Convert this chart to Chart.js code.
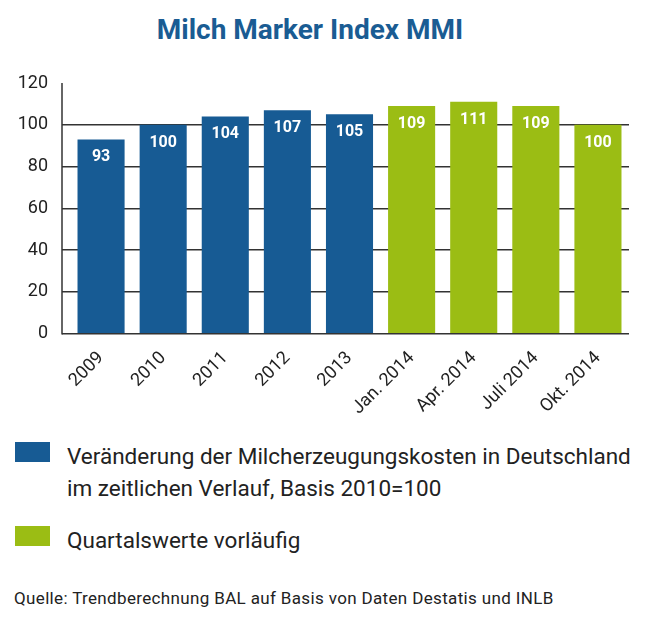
<!DOCTYPE html>
<html>
<head>
    <title>Milch Marker Index MMI</title>
    <style>
        body {
            margin: 0;
            background: #ffffff;
            font-family: Roboto, sans-serif;
            color: #222;
        }
        #page {
            position: relative;
            width: 645px;
            height: 627px;
            overflow: hidden;
        }
        #title {
            position: absolute;
            top: 13px;
            left: 0;
            width: 620px;
            text-align: center;
            font-size: 28px;
            font-weight: bold;
            color: #1a5c93;
        }
        #chartContainer {
            position: absolute;
            left: 0;
            top: 0;
            width: 645px;
            height: 425px;
        }
        .legend {
            position: absolute;
            left: 15px;
            font-size: 22.5px;
            line-height: 32px;
            color: #222;
        }
        .legend .box {
            position: absolute;
            left: 0;
            top: 2px;
            width: 35px;
            height: 20px;
        }
        .legend .text {
            margin-left: 52px;
        }
        #source {
            position: absolute;
            left: 14px;
            top: 588px;
            font-size: 17px;
            line-height: 20px;
            letter-spacing: 0.35px;
            color: #222;
        }
    </style>
    <script src="https://cdn.jsdelivr.net/npm/chart.js"></script>
</head>
<body>
<div id="page">
    <div id="title">Milch Marker Index MMI</div>
    <div id="chartContainer">
        <canvas id="myChart"></canvas>
    </div>
    <div class="legend" style="top: 440px;">
        <div class="box" style="background: #175b94;"></div>
        <div class="text">Veränderung der Milcherzeugungskosten in Deutschland<br>im zeitlichen Verlauf, Basis 2010=100</div>
    </div>
    <div class="legend" style="top: 524px;">
        <div class="box" style="background: #9bbd14;"></div>
        <div class="text">Quartalswerte vorläufig</div>
    </div>
    <div id="source">Quelle: Trendberechnung BAL auf Basis von Daten Destatis und INLB</div>
</div>

<script>
    // data
    let categories = ['2009', '2010', '2011', '2012', '2013', 'Jan. 2014', 'Apr. 2014', 'Juli 2014', 'Okt. 2014'];
    let values = [93, 100, 104, 107, 105, 109, 111, 109, 100];
    let provisional = [false, false, false, false, false, true, true, true, true];
    let yTicks = [0, 20, 40, 60, 80, 100, 120];

    let blue = '#175b94';
    let green = '#9bbd14';
    let lineColor = '#333333';

    // value labels inside the bars
    let barLabels = {
        id: 'barLabels',
        afterDatasetsDraw(chart) {
            let ctx = chart.ctx;
            let meta = chart.getDatasetMeta(0);
            ctx.save();
            ctx.fillStyle = '#ffffff';
            ctx.font = 'bold 16px Roboto';
            ctx.textAlign = 'center';
            ctx.textBaseline = 'middle';
            meta.data.forEach(function(bar, i) {
                ctx.fillText(values[i], bar.x, bar.y + 18);
            });
            ctx.restore();
        }
    };

    // vertical axis line, a bit left of the plot area
    let yAxisLine = {
        id: 'yAxisLine',
        afterDraw(chart) {
            let ctx = chart.ctx;
            let y = chart.scales.y;
            let x = chart.chartArea.left - 8;
            ctx.save();
            ctx.strokeStyle = lineColor;
            ctx.lineWidth = 1.5;
            ctx.beginPath();
            ctx.moveTo(x, y.getPixelForValue(120));
            ctx.lineTo(x, y.getPixelForValue(0) + 0.75);
            ctx.stroke();
            ctx.restore();
        }
    };

    let ctx = document.getElementById('myChart').getContext('2d');
    let myChart = new Chart(ctx, {
        type: 'bar',
        data: {
            labels: categories,
            datasets: [{
                data: values,
                backgroundColor: provisional.map(p => p ? green : blue),
                borderWidth: 0,
                categoryPercentage: 1,
                barPercentage: 0.758
            }]
        },
        options: {
            responsive: true,
            maintainAspectRatio: false,
            animation: false,
            layout: {
                padding: { top: 83, right: 16, left: 0, bottom: 0 }
            },
            plugins: {
                legend: { display: false },
                tooltip: { enabled: false }
            },
            scales: {
                x: {
                    grid: { display: false },
                    border: { display: false },
                    ticks: {
                        maxRotation: 45,
                        minRotation: 45,
                        padding: 6,
                        color: '#222',
                        font: { family: 'Roboto', size: 18 }
                    }
                },
                y: {
                    min: 0,
                    max: 120,
                    afterFit: function(scale) { scale.width = 70; },
                    afterBuildTicks: function(scale) {
                        scale.ticks = yTicks.map(v => ({ value: v }));
                    },
                    border: { display: false },
                    grid: {
                        color: c => c.tick && c.tick.value === 120 ? 'rgba(0,0,0,0)' : lineColor,
                        lineWidth: 1.5,
                        drawTicks: true,
                        tickLength: 8
                    },
                    ticks: {
                        padding: 14,
                        color: '#222',
                        font: { family: 'Roboto', size: 18 }
                    }
                }
            }
        },
        plugins: [barLabels, yAxisLine]
    });
</script>
</body>
</html>
